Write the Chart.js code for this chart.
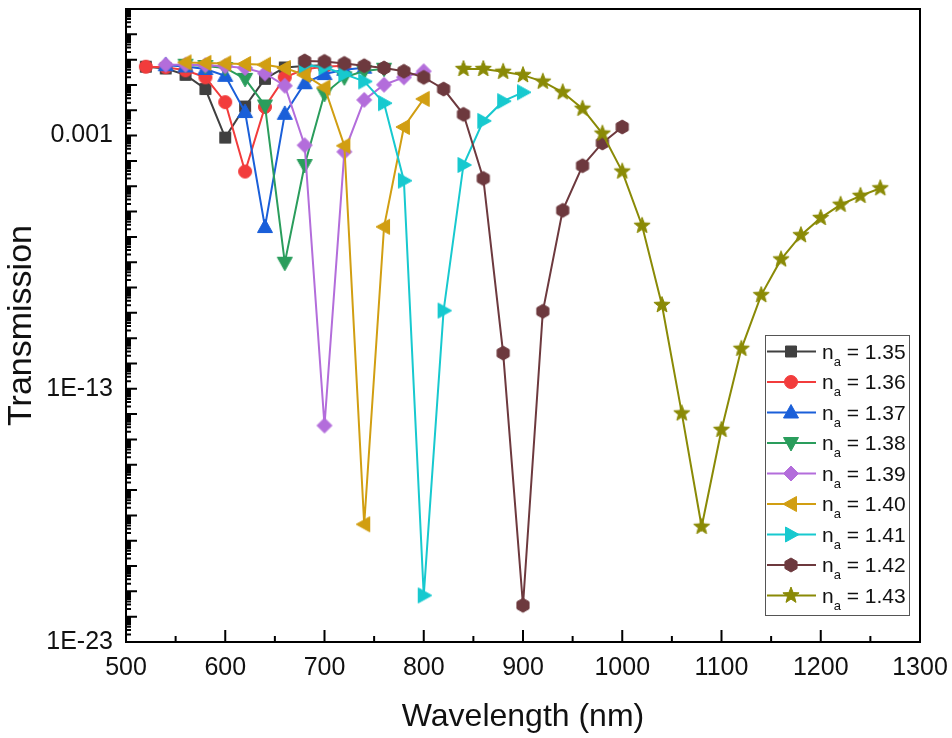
<!DOCTYPE html>
<html><head><meta charset="utf-8">
<script src="https://cdn.jsdelivr.net/npm/chart.js@4.4.0/dist/chart.umd.min.js"></script>
<style>html,body{margin:0;padding:0;background:#fff;}#wrap{width:952px;height:738px;}</style>
</head><body><div id="wrap"><canvas id="c" width="952" height="738"></canvas></div>
<script>
// ---- data ----
const wl135 = [520,540,560,580,600,620,640,660,680,700];
const t135  = [0.525,0.447,0.251,0.0692,8.32e-4,0.0141,0.174,0.490,0.562,0.603];
const wl136 = [520,540,560,580,600,620,640,660,680,700,720];
const t136  = [0.525,0.501,0.380,0.200,0.0209,3.80e-5,0.0135,0.200,0.417,0.525,0.575];
const wl137 = [540,560,580,600,620,640,660,680,700,720,740];
const t137  = [0.603,0.537,0.427,0.229,8.51e-3,2.45e-7,7.24e-3,0.117,0.269,0.398,0.479];
const wl138 = [560,580,600,620,640,660,680,700,720,740,760];
const t138  = [0.631,0.562,0.468,0.174,0.0155,9.55e-9,6.92e-5,0.0447,0.200,0.355,0.437];
const wl139 = [540,560,580,600,620,640,660,680,700,720,740,760,780,800];
const t139  = [0.631,0.631,0.603,0.550,0.468,0.288,0.0933,4.17e-4,3.55e-15,2.29e-4,0.0257,0.102,0.200,0.347];
const wl140 = [560,580,600,620,640,660,680,700,720,740,760,780,800];
const t140  = [0.776,0.741,0.708,0.676,0.631,0.468,0.251,0.0794,3.98e-4,4.47e-19,2.51e-7,2.19e-3,0.0282];
const wl141 = [680,700,720,740,760,780,800,820,840,860,880,900];
const t141  = [0.603,0.501,0.269,0.138,0.0191,1.66e-5,6.92e-22,1.23e-10,6.92e-5,3.80e-3,0.0229,0.0513];
const wl142 = [680,700,720,740,760,780,800,820,840,860,880,900,920,940,960,980,1000];
const t142  = [0.891,0.851,0.708,0.575,0.468,0.347,0.200,0.0692,6.92e-3,2.04e-5,2.57e-12,2.82e-22,1.15e-10,1.12e-6,6.46e-5,5.13e-4,2.19e-3];
const wl143 = [840,860,880,900,920,940,960,980,1000,1020,1040,1060,1080,1100,1120,1140,1160,1180,1200,1220,1240,1260];
const t143  = [0.427,0.427,0.331,0.245,0.135,0.0513,0.0115,1.20e-3,3.80e-5,2.75e-7,2.04e-10,1.07e-14,3.55e-19,2.40e-15,3.80e-12,5.01e-10,1.29e-8,1.17e-7,5.62e-7,1.86e-6,4.17e-6,8.32e-6];

const naLabels = ['1.35','1.36','1.37','1.38','1.39','1.40','1.41','1.42','1.43'];
const xTickValues = [500,600,700,800,900,1000,1100,1200,1300];
const yTickValues = [1e-23,1e-13,1e-3];
const yTickLabels = ['1E-23','1E-13','0.001'];

// ---- styling ----
const wlSets = [wl135,wl136,wl137,wl138,wl139,wl140,wl141,wl142,wl143];
const tSets  = [t135,t136,t137,t138,t139,t140,t141,t142,t143];
const colors = ['#404040','#f23c3c','#1a5fd9','#2a9d5c','#b36ddb','#d19e12','#17c9cf','#6d393e','#8a8a06'];
const shapes = ['square','circle','up','down','diamond','left','right','hexagon','star'];
const FONT = "'Liberation Sans', Arial, sans-serif";

function poly(ctx, x, y, pts){
  ctx.moveTo(x+pts[0][0], y+pts[0][1]);
  for (let i=1;i<pts.length;i++) ctx.lineTo(x+pts[i][0], y+pts[i][1]);
  ctx.closePath();
}
function drawMarker(ctx, shape, x, y, color){
  ctx.save();
  ctx.fillStyle = color; ctx.strokeStyle = color; ctx.lineWidth = 1;
  ctx.beginPath();
  switch(shape){
    case 'square': ctx.rect(x-5.5,y-5.5,11,11); break;
    case 'circle': ctx.arc(x,y,6.5,0,Math.PI*2); break;
    case 'up': poly(ctx,x,y,[[0,-8],[7.5,5.5],[-7.5,5.5]]); break;
    case 'down': poly(ctx,x,y,[[0,8],[7.5,-5.5],[-7.5,-5.5]]); break;
    case 'left': poly(ctx,x,y,[[-8,0],[5.5,-7.5],[5.5,7.5]]); break;
    case 'right': poly(ctx,x,y,[[8,0],[-5.5,-7.5],[-5.5,7.5]]); break;
    case 'diamond': poly(ctx,x,y,[[0,-7.5],[7.5,0],[0,7.5],[-7.5,0]]); break;
    case 'hexagon': {
      const p=[]; for(let k=0;k<6;k++){const a=Math.PI/6+k*Math.PI/3; p.push([7*Math.cos(a),7*Math.sin(a)]);} poly(ctx,x,y,p); break; }
    case 'star': {
      const p=[]; for(let k=0;k<10;k++){const a=-Math.PI/2+k*Math.PI/5; const r=(k%2===0)?8.5:3.6; p.push([r*Math.cos(a),r*Math.sin(a)]);} poly(ctx,x,y,p); break; }
  }
  ctx.fill(); ctx.stroke();
  ctx.restore();
}
function markerCanvas(shape,color){
  const cv=document.createElement('canvas'); cv.width=22; cv.height=22;
  drawMarker(cv.getContext('2d'),shape,11,11,color); return cv;
}

const datasets = wlSets.map((wl,i)=>({
  label: 'n_a = '+naLabels[i],
  data: wl.map((w,j)=>({x:w,y:tSets[i][j]})),
  borderColor: colors[i],
  backgroundColor: colors[i],
  borderWidth: 2,
  pointStyle: markerCanvas(shapes[i],colors[i]),
  pointRadius: 7,
  tension: 0,
  order: 8-i
}));

const frameAndTicks = {
  id:'frameAndTicks',
  afterDatasetsDraw(chart){
    const ctx=chart.ctx, a=chart.chartArea, xs=chart.scales.x, ys=chart.scales.y;
    ctx.save();
    ctx.strokeStyle='#000'; ctx.lineWidth=2;
    ctx.strokeRect(a.left,a.top,a.right-a.left,a.bottom-a.top);
    ctx.beginPath();
    for(let v=500; v<=1300; v+=50){
      const px=xs.getPixelForValue(v); const len=(v%100===0)?12:6;
      ctx.moveTo(px,a.bottom); ctx.lineTo(px,a.bottom-len);
    }
    for(let d=-23; d<=1; d++){
      for(let k=1;k<=9;k++){
        const v=k*Math.pow(10,d); const py=ys.getPixelForValue(v);
        if(py<a.top) continue;
        const len=(k===1)?11:5;
        ctx.moveTo(a.left,py); ctx.lineTo(a.left+len,py);
      }
    }
    ctx.stroke();
    ctx.restore();
  }
};

const legendBox = {
  id:'legendBox',
  afterDraw(chart){
    const ctx=chart.ctx, a=chart.chartArea;
    const left=a.right-155, top=a.bottom-307, w=144, h=280;
    ctx.save();
    ctx.fillStyle='#fff'; ctx.fillRect(left,top,w,h);
    ctx.strokeStyle='#555'; ctx.lineWidth=1; ctx.strokeRect(left+0.5,top+0.5,w,h);
    chart.data.datasets.forEach((ds,i)=>{
      const cy=top+16.5+i*30.5;
      ctx.strokeStyle=colors[i]; ctx.lineWidth=2;
      ctx.beginPath(); ctx.moveTo(left+2,cy); ctx.lineTo(left+51,cy); ctx.stroke();
      drawMarker(ctx,shapes[i],left+26,cy,colors[i]);
      ctx.fillStyle='#111'; ctx.textBaseline='alphabetic';
      let tx=left+57;
      ctx.font='21px '+FONT; ctx.fillText('n',tx,cy+7); tx+=ctx.measureText('n').width;
      ctx.font='13px '+FONT; ctx.fillText('a',tx,cy+14); tx+=ctx.measureText('a').width;
      ctx.font='21px '+FONT; ctx.fillText(' = '+naLabels[i],tx,cy+7);
    });
    ctx.restore();
  }
};

new Chart(document.getElementById('c'),{
  type:'line',
  data:{datasets},
  options:{
    responsive:false, animation:false, events:[],
    layout:{padding:{top:4,right:32,left:0,bottom:0}},
    plugins:{legend:{display:false},tooltip:{enabled:false}},
    scales:{
      x:{
        type:'linear', min:500, max:1300,
        afterFit(s){ s.height=96; s.paddingLeft=0; s.paddingRight=0; },
        afterBuildTicks(s){ s.ticks=xTickValues.map(v=>({value:v})); },
        grid:{display:false, drawTicks:false},
        border:{display:true,color:'#000',width:2},
        ticks:{color:'#111',font:{family:FONT,size:25},padding:11,autoSkip:false,maxRotation:0,callback:(v)=>String(v)},
        title:{display:true,text:'Wavelength (nm)',color:'#111',font:{family:FONT,size:32},padding:{top:0,bottom:2}}
      },
      y:{
        type:'logarithmic', min:1e-23, max:100,
        afterFit(s){ s.width=126; s.paddingTop=0; s.paddingBottom=0; },
        afterBuildTicks(s){ s.ticks=yTickValues.map(v=>({value:v})); },
        grid:{display:false, drawTicks:false},
        border:{display:true,color:'#000',width:2},
        ticks:{color:'#111',font:{family:FONT,size:25},padding:13,autoSkip:false,
          callback:(v)=>{const i=yTickValues.indexOf(v); return i>=0?yTickLabels[i]:'';}},
        title:{display:true,text:'Transmission',color:'#111',font:{family:FONT,size:34},padding:{top:1,bottom:0}}
      }
    }
  },
  plugins:[frameAndTicks,legendBox]
});
</script></body></html>
